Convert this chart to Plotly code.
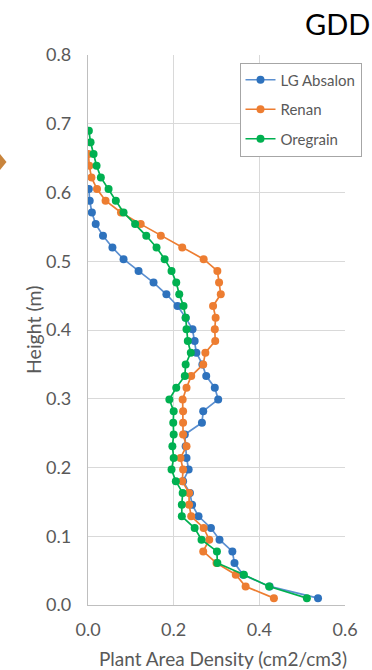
import plotly.graph_objects as go

# Canopy layer heights (m), one per measured layer
heights = [0.010, 0.027, 0.044, 0.061, 0.078, 0.095, 0.112, 0.129, 0.146, 0.163,
           0.180, 0.197, 0.214, 0.231, 0.248, 0.265, 0.282, 0.299, 0.316, 0.333,
           0.350, 0.367, 0.384, 0.401, 0.418, 0.435, 0.452, 0.469, 0.486, 0.503,
           0.520, 0.537, 0.554, 0.571, 0.588, 0.605, 0.622, 0.639, 0.656, 0.673,
           0.690]

# Plant area density (cm2/cm3) per layer, bottom to top
absalon = [0.537, 0.424, 0.362, 0.342, 0.337, 0.307, 0.287, 0.258, 0.243, 0.238,
           0.222, 0.235, 0.230, 0.228, 0.226, 0.266, 0.269, 0.304, 0.296, 0.276,
           0.267, 0.253, 0.249, 0.244, 0.228, 0.209, 0.183, 0.153, 0.118, 0.083,
           0.057, 0.035, 0.018, 0.009, 0.004, 0.002]
renan = [0.434, 0.368, 0.345, 0.300, 0.269, 0.283, 0.270, 0.241, 0.236, 0.236,
         0.220, 0.222, 0.216, 0.230, 0.222, 0.222, 0.222, 0.221, 0.230, 0.241,
         0.269, 0.274, 0.297, 0.296, 0.298, 0.292, 0.310, 0.306, 0.302, 0.270,
         0.220, 0.170, 0.123, 0.077, 0.041, 0.021, 0.008, 0.003, 0.001]
oregrain = [0.511, 0.423, 0.364, 0.302, 0.301, 0.265, 0.249, 0.219, 0.219, 0.221,
            0.205, 0.195, 0.200, 0.197, 0.200, 0.199, 0.200, 0.190, 0.206, 0.226,
            0.228, 0.240, 0.233, 0.230, 0.228, 0.223, 0.213, 0.206, 0.195, 0.179,
            0.160, 0.136, 0.110, 0.083, 0.065, 0.048, 0.030, 0.020, 0.013, 0.006,
            0.002]

series_names = ["LG Absalon", "Renan", "Oregrain"]
series_values = [absalon, renan, oregrain]
line_colors = ["#5b8fd0", "#ed7d31", "#00b050"]
marker_colors = ["#2e72bd", "#ed7d31", "#00b050"]

x_ticks = [0.0, 0.2, 0.4, 0.6]
y_ticks = [0.0, 0.1, 0.2, 0.3, 0.4, 0.5, 0.6, 0.7, 0.8]

FONT = "Lato, 'Open Sans', sans-serif"
GREY_TEXT = "#595959"

fig = go.Figure()
for name, vals, lc, mc in zip(series_names, series_values, line_colors, marker_colors):
    fig.add_trace(go.Scatter(
        x=vals, y=heights[:len(vals)], name=name, legendgroup=name,
        mode="lines+markers",
        line=dict(color=lc, width=1.7),
        marker=dict(color=mc, size=8, line=dict(width=0)),
    ))

# plot-area geometry in pixels, used for paper-coordinate placement
W, H = 372, 670
L, R, T, B = 88, 27, 55, 65
pw, ph = W - L - R, H - T - B

def px_x(px):
    return (px - L) / pw

def px_y(py):
    return (H - B - py) / ph

# small marker glyph at the left edge
cx, cy, hw, hh = 0, 162, 6.5, 8
diamond = "M {} {} L {} {} L {} {} L {} {} Z".format(
    px_x(cx - hw), px_y(cy), px_x(cx), px_y(cy - hh),
    px_x(cx + hw), px_y(cy), px_x(cx), px_y(cy + hh))

fig.update_layout(
    width=W, height=H,
    margin=dict(l=L, r=R, t=T, b=B, autoexpand=False),
    paper_bgcolor="white", plot_bgcolor="white",
    font=dict(family=FONT, color=GREY_TEXT, size=17),
    showlegend=True,
    legend=dict(
        x=px_x(239.5), y=px_y(62.5), xanchor="left", yanchor="top",
        bgcolor="white", bordercolor="#a6a6a6", borderwidth=1,
        font=dict(family=FONT, size=15, color=GREY_TEXT),
        tracegroupgap=7,
    ),
    xaxis=dict(
        range=[0, 0.6], tickvals=x_ticks, ticktext=["%.1f" % v for v in x_ticks],
        showgrid=True, gridcolor="#d9d9d9", gridwidth=1.3,
        showline=True, linecolor="#bfbfbf", linewidth=1.3,
        zeroline=False, ticks="", ticklabelstandoff=8,
        tickfont=dict(size=18, color=GREY_TEXT),
    ),
    yaxis=dict(
        range=[0, 0.8], tickvals=y_ticks, ticktext=["%.1f" % v for v in y_ticks],
        showgrid=True, gridcolor="#d9d9d9", gridwidth=1.3,
        showline=True, linecolor="#bfbfbf", linewidth=1.3,
        zeroline=False, ticks="", ticklabelstandoff=12,
        tickfont=dict(size=18, color=GREY_TEXT),
    ),
    shapes=[dict(type="path", path=diamond, xref="paper", yref="paper",
                 fillcolor="#c8843c", line=dict(width=0), layer="above")],
    annotations=[
        dict(text="Plant Area Density (cm2/cm3)", xref="paper", yref="paper",
             x=px_x(222.5), y=px_y(658), xanchor="center", yanchor="middle",
             showarrow=False, font=dict(size=19, color=GREY_TEXT)),
        dict(text="Height (m)", xref="paper", yref="paper",
             x=px_x(33), y=px_y(330), xanchor="center", yanchor="middle",
             textangle=-90, showarrow=False, font=dict(size=19.5, color=GREY_TEXT)),
        dict(text="GDD", xref="paper", yref="paper",
             x=px_x(303), y=px_y(23), xanchor="left", yanchor="middle",
             showarrow=False, font=dict(size=29, color="#000000")),
    ],
)

fig.write_html("out.html")
